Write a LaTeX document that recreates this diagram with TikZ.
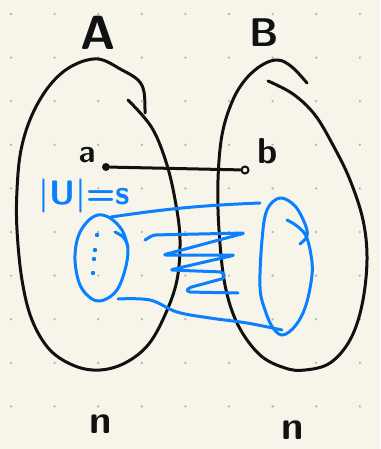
\documentclass[tikz,border=0pt]{standalone}
\usepackage{tikz}
\usetikzlibrary{arrows.meta,positioning,calc}
\usepackage{xcolor}
\usepackage{fontspec}
\definecolor{Paper}{HTML}{F7F5EA}
\definecolor{GridDot}{HTML}{B8B6AA}
\definecolor{Ink}{HTML}{111111}
\definecolor{BlueInk}{HTML}{0A80FF}
\tikzset{
  inkline/.style={draw=Ink, line width=3pt, line cap=round, line join=round},
  blueline/.style={draw=BlueInk, line width=3pt, line cap=round, line join=round},
  setlabel/.style={text=Ink, inner sep=0pt, font=\sffamily\bfseries\fontsize{40}{40}\selectfont},
  vertexdot/.style={circle, fill=Ink, inner sep=0pt, minimum size=8pt},
  vertexring/.style={circle, draw=Ink, fill=Paper, line width=2pt, inner sep=0pt, minimum size=7pt}
}

\begin{document}
\begin{tikzpicture}[x=1pt,y=-1pt]
\useasboundingbox (0,0) rectangle (380,449);
\fill[Paper] (0,0) rectangle (380,449);
\foreach \i in {0,...,8}
  \foreach \j in {0,...,9}
    \fill[GridDot] ({11+43.6*\i},{14+43.6*\j}) circle (1.3);

\draw[inkline] plot[smooth,tension=0.6] coordinates {(145,113) (144,92) (138,80) (122,70) (98,59) (72,66) (50,85) (32,115) (21,150) (17,190) (17,230) (22,280) (32,320) (50,350) (75,366) (100,370) (125,363) (148,345) (165,315) (177,280) (180,240) (176,205) (167,165) (152,128) (128,100)};
\draw[inkline] plot[smooth,tension=0.6] coordinates {(307,83) (292,67) (278,60) (262,65) (245,80) (232,102) (222,135) (218,180) (219,230) (225,285) (238,325) (260,355) (285,368) (305,370) (330,363) (350,340) (362,305) (367,260) (363,220) (350,180) (334,147) (315,115) (293,94) (268,81)};

\node[setlabel,font=\sffamily\bfseries\fontsize{48}{48}\selectfont] (setA) at (98,33) {A};
\node[setlabel] (setB) at (264,33) {B};
\node[setlabel,font=\sffamily\bfseries\fontsize{32}{32}\selectfont] (la) at (87,155) {a};
\node[setlabel,font=\sffamily\bfseries\fontsize{36}{36}\selectfont] (lb) at (268,151) {b};
\node[setlabel] (nA) at (101,424) {n};
\node[setlabel] (nB) at (293,430) {n};

\node[vertexdot] (va) at (106,167) {};
\node[vertexring] (vb) at (245,170) {};
\draw[inkline] (va) -- (vb);

\node[text=BlueInk, inner sep=0pt, font=\sffamily\bfseries\fontsize{34}{34}\selectfont] (size) at (84,196) {|U|=s};

\draw[blueline] plot[smooth,tension=0.6] coordinates {(115,232) (124,238) (128,250) (125,270) (117,290) (104,300) (92,299) (80,285) (75,260) (78,237) (87,222) (98,215) (110,218) (122,230) (128,247)};
\draw[blueline] plot[smooth,tension=0.6] coordinates {(287,220) (297,226) (306,236) (311,255) (312,275) (306,305) (296,325) (283,335) (273,328) (265,310) (260,287) (262,240) (267,210) (280,198) (295,206) (305,224) (307,236) (300,244)};

\foreach \p in {(97,235),(95,250),(94,259),(93,273)}
  \fill[BlueInk] \p circle (2.2);

\coordinate (uTop) at (111,217);
\coordinate (wTop) at (260,203);
\coordinate (uBot) at (118,299);
\coordinate (wBot) at (282,330);
\draw[blueline] (uTop) to[bend left=3] (wTop);
\draw[blueline] plot[smooth,tension=0.6] coordinates {(uBot) (150,300) (177,312) (210,318) (247,323) (wBot)};
\draw[blueline,rounded corners=3pt] (145,240) -- (153,235) -- (245,233) -- (163,255) -- (235,255) -- (170,270) -- (223,272) -- (225,278) -- (188,288) -- (187,292) -- (238,293);
\end{tikzpicture}
\end{document}
